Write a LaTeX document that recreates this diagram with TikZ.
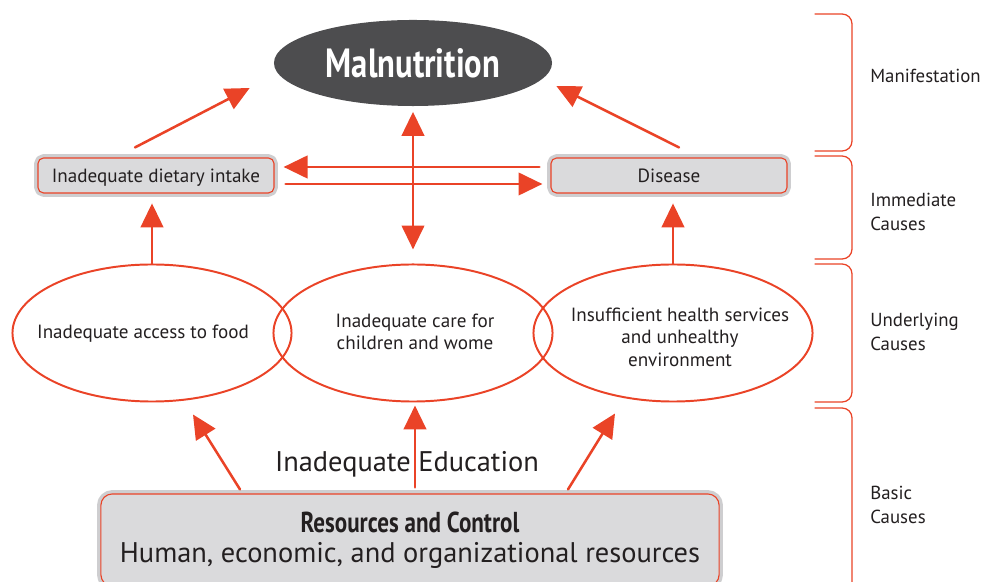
\documentclass[tikz,border=0pt]{standalone}
\usepackage{fontspec}
\setmainfont{PT Sans}
\newfontfamily\condfont{PT Sans}[FakeStretch=0.8]
\usetikzlibrary{arrows.meta,shapes.geometric,calc}

\begin{document}
\begin{tikzpicture}[x=0.025cm, y=-0.025cm, line cap=round, line join=round,
  every node/.style={text=ink},
  arr/.style={-{Triangle[length=17pt, width=16pt]}, line width=1.8pt, draw=redline},
  arrbi/.style={{Triangle[length=17pt, width=16pt]}-{Triangle[length=17pt, width=16pt]}, line width=1.8pt, draw=redline},
  causebox/.style={draw=redline, line width=0.8pt, fill=boxgray, rounded corners=4pt,
    preaction={draw=bordergray, line width=5.5pt},
    minimum width=5.9cm, minimum height=0.875cm, inner sep=0pt, text height=1.05em, text depth=0.05em,
    font=\fontsize{13.6}{16}\selectfont},
  causeell/.style={ellipse, draw=redline, line width=1.4pt, minimum width=6.975cm,
    minimum height=3.425cm, inner sep=0pt},
  elltext/.style={align=center, inner sep=0pt, font=\fontsize{13.6}{16}\selectfont},
  bracket/.style={draw=redline, line width=0.9pt, rounded corners=7pt},
  levellabel/.style={anchor=west, align=left, inner sep=0pt, font=\fontsize{13.4}{17}\selectfont}]

% Colors
\definecolor{redline}{RGB}{234,67,39}
\definecolor{boxgray}{RGB}{218,218,220}
\definecolor{bordergray}{RGB}{206,206,208}
\definecolor{darkell}{RGB}{77,77,79}
\definecolor{ink}{RGB}{35,31,32}

\useasboundingbox (0,0) rectangle (982,582);

% Manifestation
\node[ellipse, fill=darkell, minimum width=6.95cm, minimum height=2.15cm, inner sep=0pt,
  text=white, font=\condfont\bfseries\fontsize{29}{32}\selectfont] (mal) at (413,63) {Malnutrition};

% Immediate causes
\node[causebox] (diet) at (156,175.5) {Inadequate dietary intake};
\node[causebox] (dis) at (669,175.5) {Disease};

% Underlying causes
\node[causeell] (food) at (152,333) {};
\node[causeell] (care) at (413,333) {};
\node[causeell] (env) at (673,333) {};
\node[elltext] (foodtxt) at ([shift={(-9,1)}]food.center) {Inadequate access to food};
\node[elltext] (caretxt) at ([shift={(2,-1)}]care.center) {Inadequate care for\\children and wome};
\node[elltext] (envtxt) at ([shift={(7,4)}]env.center) {Insufficient health services\\and unhealthy\\environment};

% Basic causes
\node[draw=redline, line width=0.8pt, fill=boxgray, rounded corners=8pt,
  preaction={draw=bordergray, line width=5.5pt},
  minimum width=15.45cm, minimum height=2.3cm, inner sep=0pt, align=center,
  font=\fontsize{20.2}{21.5}\selectfont] (res) at (410,540)
  {{\condfont\bfseries\fontsize{20.5}{21.5}\selectfont Resources and Control}\\Human, economic, and organizational resources};
\node[font=\fontsize{20.2}{24}\selectfont] (edu) at (407,464) {Inadequate Education};

% Arrows to malnutrition
\draw[arr] ([shift={(-21,-10)}]diet.north) -- ([shift={(-24,25)}]mal.west);
\draw[arr] ([shift={(10,-10)}]dis.north) -- ([shift={(4,23)}]mal.east);
\draw[arrbi, shorten <=4pt, shorten >=10pt] (mal.south) -- (care.north);

% Between dietary intake and disease
\draw[arr] ([shift={(-11,-8.5)}]dis.west) -- ([shift={(9,-8.5)}]diet.east);
\draw[arr] ([shift={(11,8.5)}]diet.east) -- ([shift={(-8,8.5)}]dis.west);

% Underlying to immediate
\draw[arr, shorten >=7pt] (food.north) -- (food.north |- diet.south);
\draw[arr, shorten >=7pt] (env.north) -- (env.north |- dis.south);

% Basic to underlying
\draw[arr] ([shift={(-170,-4)}]res.north) -- ([shift={(41,12)}]food.south);
\draw[arr] ([shift={(5,-6)}]res.north) -- ([shift={(2,3)}]care.south);
\draw[arr] ([shift={(158,-4)}]res.north) -- ([shift={(-58,11)}]env.south);

% Level brackets
\draw[bracket] (815,14) -- (852,14) -- (852,151) -- (815,151);
\draw[bracket] (815,156) -- (852,156) -- (852,259) -- (815,259);
\draw[bracket] (815,264) -- (852,264) -- (852,402) -- (815,402);
\draw[bracket] (815,408) -- (852,408) -- (852,600) -- (815,600);

\node[levellabel] (lman) at (870,76) {Manifestation};
\node[levellabel] (limm) at (870,212) {Immediate\\Causes};
\node[levellabel] (lund) at (870,332) {Underlying\\Causes};
\node[levellabel] (lbas) at (870,505) {Basic\\Causes};

\end{tikzpicture}
\end{document}
